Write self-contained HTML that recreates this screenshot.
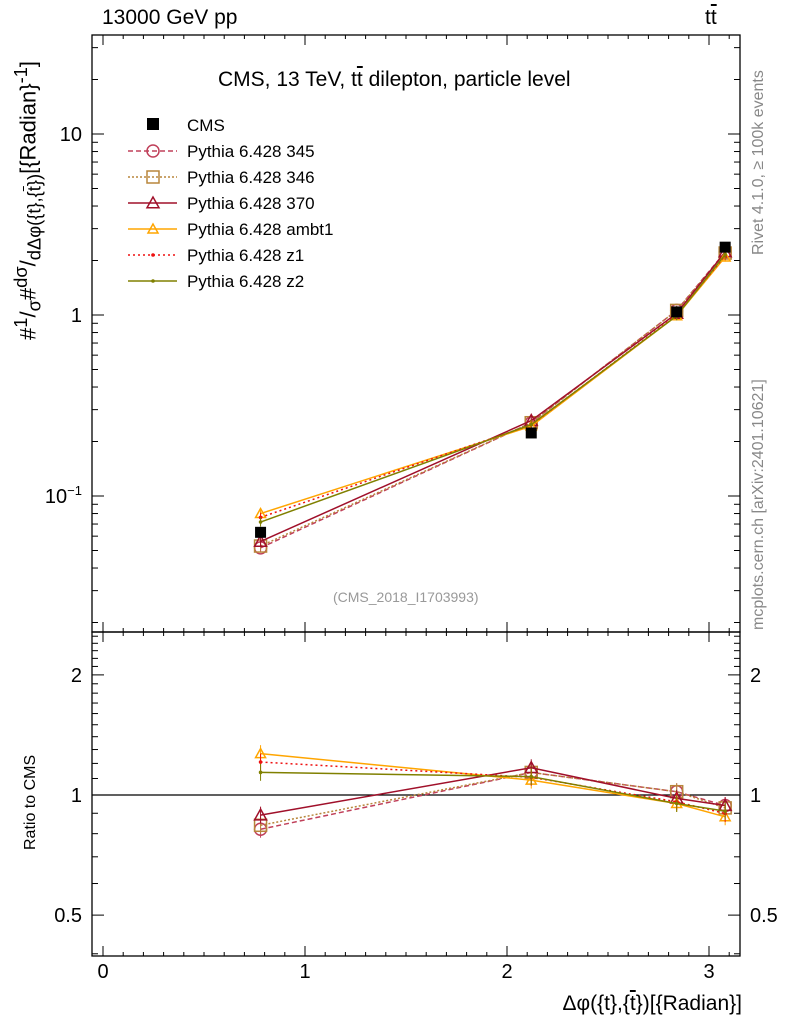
<!DOCTYPE html>
<html><head><meta charset="utf-8"><style>
body{margin:0;background:#fff;}
svg{display:block;font-family:"Liberation Sans",sans-serif;}
</style></head><body>
<svg id="chart" width="786" height="1024" viewBox="0 0 786 1024" xmlns="http://www.w3.org/2000/svg">
<g id="g"></g>
</svg>
<script>
const xCenters = [0.78, 2.12, 2.84, 3.08];
const cmsValues = [0.063, 0.223, 1.04, 2.37];
const cmsErrors = [0.004, 0.01, 0.03, 0.06];
const seriesNames = ["Pythia 6.428 345","Pythia 6.428 346","Pythia 6.428 370","Pythia 6.428 ambt1","Pythia 6.428 z1","Pythia 6.428 z2"];
const s345 = [0.0517, 0.254, 1.06, 2.23];
const s346 = [0.0529, 0.254, 1.06, 2.20];
const s370 = [0.0561, 0.261, 1.02, 2.23];
const sAmbt1 = [0.080, 0.243, 0.99, 2.09];
const sZ1 = [0.0762, 0.247, 1.0, 2.13];
const sZ2 = [0.0718, 0.248, 0.99, 2.16];
const xTicks = [0,1,2,3];
const mainTicks = [0.1,1,10];
const ratioTicks = [0.5,1,2];

const NS="http://www.w3.org/2000/svg";
const g=document.getElementById('g');
function el(t,a,txt){const e=document.createElementNS(NS,t);for(const k in a)e.setAttribute(k,a[k]);if(txt!==undefined)e.textContent=txt;g.appendChild(e);return e;}
const L=92,R=740,T=35,M=632,B=956;
const X=v=>103+v*202;
const Y=v=>315-Math.log10(v)*181;
const YR=v=>795-Math.log10(v)*399;

const styles=[
 {c:"#c0405a",d:"5,3",m:"circle",big:true},
 {c:"#b8863b",d:"2,2",m:"square",big:true},
 {c:"#a0102a",d:"",m:"tri",big:true},
 {c:"#ffa500",d:"",m:"tri",big:false},
 {c:"#ee1111",d:"2,3",m:"dot",big:false},
 {c:"#808000",d:"",m:"dot",big:false}];
const series=[s345,s346,s370,sAmbt1,sZ1,sZ2];

function marker(s,x,y,name){
  let e;
  const r=s.big?6:5;
  if(s.m==="circle")e=el('circle',{cx:x,cy:y,r:r,fill:'none',stroke:s.c,'stroke-width':1.5});
  else if(s.m==="square")e=el('rect',{x:x-r,y:y-r,width:2*r,height:2*r,fill:'none',stroke:s.c,'stroke-width':1.5});
  else if(s.m==="tri")e=el('polygon',{points:`${x},${y-r} ${x-r},${y+r*0.8} ${x+r},${y+r*0.8}`,fill:'none',stroke:s.c,'stroke-width':1.5});
  else e=el('circle',{cx:x,cy:y,r:1.8,fill:s.c});
  
  
}

let f=el('rect',{x:L,y:T,width:R-L,height:M-T,fill:'none',stroke:'#000','stroke-width':1.3});

f=el('rect',{x:L,y:M,width:R-L,height:B-M,fill:'none',stroke:'#000','stroke-width':1.3});


for(let v=0;v<=3.15;v+=0.1){
  const x=X(v);const major=Math.abs(v-Math.round(v))<1e-6;const len=major?10:4;
  for(const [y0,d] of [[M,-1],[T,1],[B,-1],[M,1]]) el('line',{x1:x,x2:x,y1:y0,y2:y0+d*len,stroke:'#000'});
}
xTicks.forEach(v=>{const t=el('text',{x:X(v),y:978,'font-size':20,'text-anchor':'middle'},String(v));
});

for(let e=-2;e<=1;e++)for(let k=1;k<=9;k++){const v=k*Math.pow(10,e);const y=Y(v);if(y<T||y>M)continue;
 const len=k===1?12:6;el('line',{x1:L,x2:L+len,y1:y,y2:y,stroke:'#000'});el('line',{x1:R,x2:R-len,y1:y,y2:y,stroke:'#000'});}
[["10<tspan dy='-8' font-size='13'>−1</tspan>",0.1],["1",1],["10",10]].forEach(([s,v])=>{
 const t=el('text',{x:82,y:Y(v)+7,'font-size':20,'text-anchor':'end'});t.innerHTML=s;
 });

for(let v=0.4;v<=2.6;v+=0.1){const y=YR(v);if(y<M||y>B)continue;
 const maj=[0.5,1,2].some(m=>Math.abs(m-v)<1e-6);const len=maj?12:6;
 el('line',{x1:L,x2:L+len,y1:y,y2:y,stroke:'#000'});el('line',{x1:R,x2:R-len,y1:y,y2:y,stroke:'#000'});}
ratioTicks.forEach(v=>{let t=el('text',{x:82,y:YR(v)+7,'font-size':20,'text-anchor':'end'},String(v));

t=el('text',{x:750,y:YR(v)+7,'font-size':20},String(v));
});
let ln=el('line',{x1:L,x2:R,y1:YR(1),y2:YR(1),stroke:'#000','stroke-width':1.3});


series.forEach((vals,i)=>{
  const s=styles[i];
  const p=el('polyline',{points:vals.map((v,j)=>X(xCenters[j])+','+Y(v)).join(' '),fill:'none',stroke:s.c,'stroke-width':1.5,'stroke-dasharray':s.d});
  
  const rv=vals.map((v,j)=>v/cmsValues[j]);
  const q=el('polyline',{points:rv.map((v,j)=>X(xCenters[j])+','+YR(v)).join(' '),fill:'none',stroke:s.c,'stroke-width':1.5,'stroke-dasharray':s.d});
  
  vals.forEach((v,j)=>{const x=X(xCenters[j]);
    el('line',{x1:x,x2:x,y1:Y(v*1.06),y2:Y(v/1.06),stroke:s.c});
    marker(s,x,Y(v),'main-marker');
    const r=rv[j];el('line',{x1:x,x2:x,y1:YR(r*1.05),y2:YR(r/1.05),stroke:s.c});
    marker(s,x,YR(r),'ratio-marker');});
});
cmsValues.forEach((v,j)=>{const x=X(xCenters[j]);
  el('line',{x1:x,x2:x,y1:Y(v+cmsErrors[j]),y2:Y(v-cmsErrors[j]),stroke:'#000'});
  const r=el('rect',{x:x-5.5,y:Y(v)-5.5,width:11,height:11,fill:'#000'});
  });

let y0=124;
const lr=el('rect',{x:147,y:y0-6,width:12,height:12,fill:'#000'});
let lt=el('text',{x:187,y:y0+7,'font-size':17},'CMS');
seriesNames.forEach((n,i)=>{const y=151+i*26;const s=styles[i];
 el('line',{x1:128,x2:177,y1:y,y2:y,stroke:s.c,'stroke-width':1.5,'stroke-dasharray':s.d});
 marker(s,153,y,'legend-marker');
 const t=el('text',{x:187,y:y+6,'font-size':17},n);});
</script>
<div style="position:absolute;left:0;top:0;width:786px;height:1024px;pointer-events:none;font-family:'Liberation Sans',sans-serif;">
<div style="position:absolute;left:102px;top:6px;font-size:21px;">13000 GeV pp</div>
<div style="position:absolute;left:705px;top:6px;font-size:21px;">t<span style="text-decoration:overline">t</span></div>
<div style="position:absolute;left:218px;top:68px;font-size:21px;">CMS, 13 TeV, t<span style="text-decoration:overline">t</span> dilepton, particle level</div>
<div style="position:absolute;left:333px;top:589px;font-size:14px;color:#999;">(CMS_2018_I1703993)</div>
<div style="position:absolute;right:44px;top:992px;font-size:21px;">Δφ({t},{<span style="text-decoration:overline">t</span>})[{Radian}]</div>
<div style="position:absolute;left:22px;top:850px;font-size:16px;transform:rotate(-90deg);transform-origin:0 0;white-space:nowrap;">Ratio to CMS</div>
<div style="position:absolute;left:10px;top:340px;font-size:22px;transform:rotate(-90deg);transform-origin:0 0;white-space:nowrap;">#<sup>1</sup>/<sub>σ</sub>#<sup>dσ</sup>/<sub>dΔφ({t},{<span style="text-decoration:overline">t</span>})</sub>[{Radian}<sup>-1</sup>]</div>
<div style="position:absolute;left:750px;top:255px;font-size:16px;color:#888;transform:rotate(-90deg);transform-origin:0 0;white-space:nowrap;">Rivet 4.1.0, ≥ 100k events</div>
<div style="position:absolute;left:750px;top:630px;font-size:16px;color:#888;transform:rotate(-90deg);transform-origin:0 0;white-space:nowrap;">mcplots.cern.ch [arXiv:2401.10621]</div>
</div>
</body></html>
